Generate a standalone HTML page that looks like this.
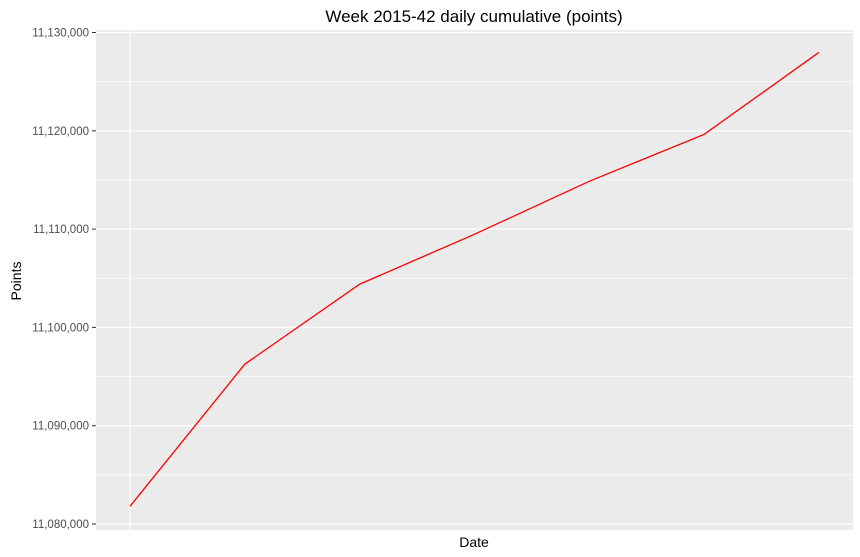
<!DOCTYPE html>
<html><head><meta charset="utf-8"><style>
html,body{margin:0;padding:0;background:#fff}
svg{display:block;font-family:"Liberation Sans",sans-serif}
</style></head><body>
<svg width="860" height="557">
<text x="474" y="22" text-anchor="middle" font-size="17" fill="#000">Week 2015-42 daily cumulative (points)</text>
<rect x="96" y="30" width="757" height="500" fill="#ebebeb"/>
<g id="grid"></g>
<g id="yaxis"></g>
<path id="line" fill="none" stroke="#ff0000" stroke-width="1.3"/>
<text x="474" y="547" text-anchor="middle" font-size="14">Date</text>
<text transform="translate(21,281) rotate(-90)" text-anchor="middle" font-size="14">Points</text>
</svg>
<script>
const days = [0,1,2,3,4,5,6];
const values = [11081800,11096260,11104390,11109470,11114860,11119630,11127970];
const yTicks = [11080000,11090000,11100000,11110000,11120000,11130000];
const yTickLabels = ["11,080,000","11,090,000","11,100,000","11,110,000","11,120,000","11,130,000"];
const NS="http://www.w3.org/2000/svg";
function y(v){return 524 - (v-11080000)/50000*491.5;}
function x(d){return 130 + d*114.8;}
const grid=document.getElementById('grid'), ya=document.getElementById('yaxis');
function mk(tag,attrs,parent){const e=document.createElementNS(NS,tag);for(const k in attrs)e.setAttribute(k,attrs[k]);parent.appendChild(e);return e;}
for(let i=0;i<yTicks.length-1;i++){
  const l=mk('line',{x1:96,x2:853,y1:(y(yTicks[i])+y(yTicks[i+1]))/2,y2:(y(yTicks[i])+y(yTicks[i+1]))/2,stroke:'#fff','stroke-width':0.6},grid);
  
  
}
yTicks.forEach((t,i)=>{
  const g=mk('line',{x1:96,x2:853,y1:y(t),y2:y(t),stroke:'#fff','stroke-width':1.2},grid);
  
  
  const tk=mk('line',{x1:92,x2:96,y1:y(t),y2:y(t),stroke:'#333','stroke-width':1},ya);
  
  
  const tx=mk('text',{x:89,y:y(t)+4,'text-anchor':'end','font-size':11.5,fill:'#4d4d4d'},ya);
  tx.textContent=yTickLabels[i];
  
  
});
const vg=mk('line',{x1:x(0),x2:x(0),y1:30,y2:530,stroke:'#fff','stroke-width':1.2},grid);


document.getElementById('line').setAttribute('d',days.map((d,i)=>(i?'L':'M')+x(d)+','+y(values[i])).join(' '));
</script>
</body></html>
